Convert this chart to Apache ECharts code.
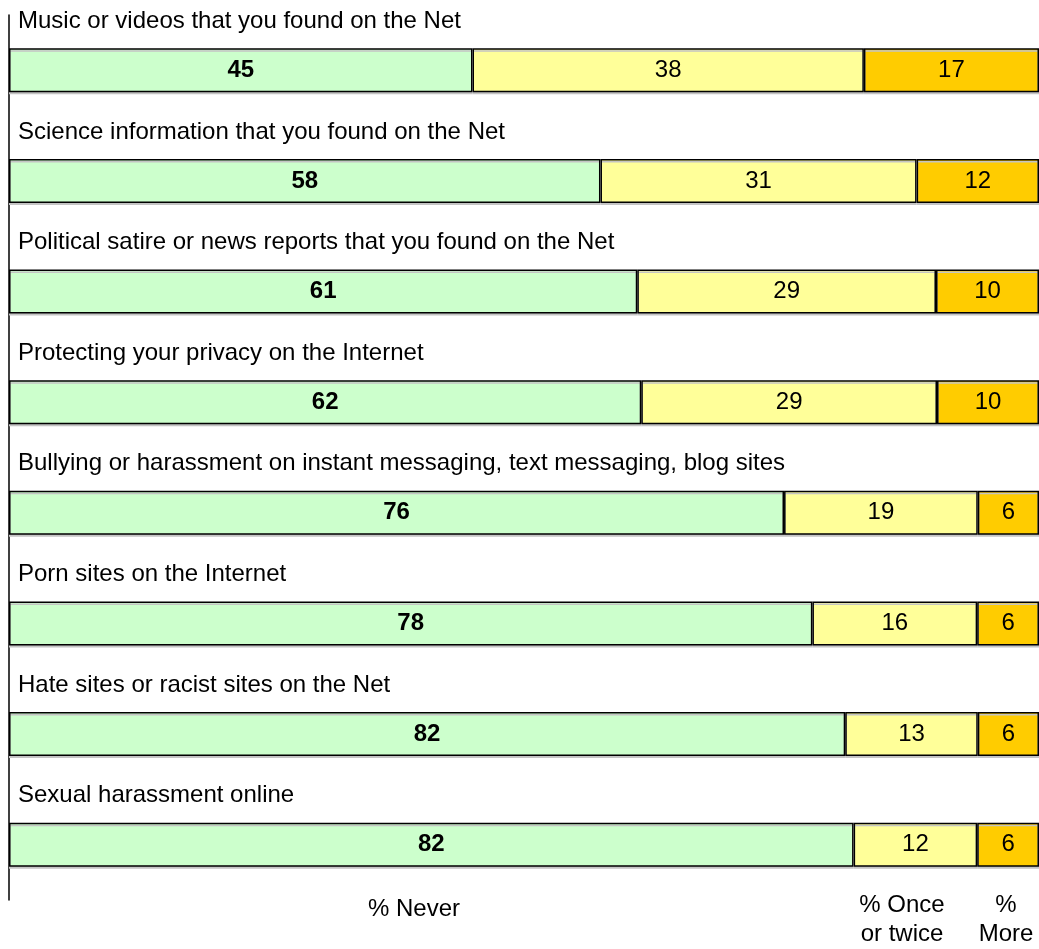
<!DOCTYPE html>
<html>
<head>
<meta charset="utf-8">
<script src="https://cdn.jsdelivr.net/npm/echarts@6/dist/echarts.min.js"></script>
<style>
  html, body { margin: 0; padding: 0; background: #fff; }
  #chart { width: 1039px; height: 949px; }
</style>
</head>
<body>
<div id="chart"></div>
<script>
// Survey items, top to bottom
var categories = [
  'Music or videos that you found on the Net',
  'Science information that you found on the Net',
  'Political satire or news reports that you found on the Net',
  'Protecting your privacy on the Internet',
  'Bullying or harassment on instant messaging, text messaging, blog sites',
  'Porn sites on the Internet',
  'Hate sites or racist sites on the Net',
  'Sexual harassment online'
];
var seriesNames = ['% Never', '% Once or twice', '% More'];
var never = [45, 58, 61, 62, 76, 78, 82, 82];
var onceOrTwice = [38, 31, 29, 29, 19, 16, 13, 12];
var more = [17, 12, 10, 10, 6, 6, 6, 6];

var colors = ['#CCFFCC', '#FFFF99', '#FFCC00'];
var FONT = '"Liberation Sans", Arial, sans-serif';
var FS = 24;

// Each row is drawn as a 100% stack: share of the row total
var totals = never.map(function (v, i) { return v + onceOrTwice[i] + more[i]; });
function shares(arr) {
  return arr.map(function (v, i) { return { value: v / totals[i] * 100, raw: v }; });
}

var raw = [never, onceOrTwice, more];
var series = raw.map(function (arr, k) {
  return {
    name: seriesNames[k],
    type: 'bar',
    stack: 'all',
    barWidth: 44,
    data: shares(arr),
    itemStyle: {
      color: colors[k],
      borderColor: '#000',
      borderWidth: 1.5,
      shadowColor: '#c4c4c4',
      shadowOffsetY: 2,
      shadowBlur: 0
    },
    label: {
      show: true,
      position: 'inside',
      color: '#000',
      fontFamily: FONT,
      fontSize: FS,
      fontWeight: k === 0 ? 'bold' : 'normal',
      formatter: function (p) { return p.data.raw; }
    },
    emphasis: { disabled: true }
  };
});

// Item captions sit above each bar, anchored at the axis origin of the row
series.push({
  type: 'custom',
  name: 'captions',
  clip: false,
  silent: true,
  data: categories.map(function (c, i) { return [0, i]; }),
  renderItem: function (params, api) {
    var p = api.coord([api.value(0), api.value(1)]);
    return {
      type: 'text',
      x: p[0] + 9,
      y: p[1] - 49,
      style: {
        text: categories[params.dataIndex],
        font: FS + 'px ' + FONT,
        fill: '#000',
        textAlign: 'left',
        textVerticalAlign: 'middle'
      }
    };
  }
});

var chart = echarts.init(document.getElementById('chart'), null, { renderer: 'canvas' });
chart.setOption({
  animation: false,
  backgroundColor: '#fff',
  grid: { left: 9, right: 0, top: 15, height: 885, containLabel: false },
  xAxis: {
    type: 'value', min: 0, max: 100,
    show: false
  },
  yAxis: {
    type: 'category',
    inverse: true,
    data: categories,
    axisLine: { show: true, lineStyle: { color: '#000', width: 1.5 } },
    axisTick: { show: false },
    splitLine: { show: false },
    axisLabel: { show: false }
  },
  series: series,
  graphic: [
    { type: 'text', x: 414, y: 909,
      style: { text: seriesNames[0], font: FS + 'px ' + FONT, fill: '#000',
               textAlign: 'center', textVerticalAlign: 'middle' } },
    { type: 'text', x: 902, y: 920,
      style: { text: '% Once\nor twice', font: FS + 'px ' + FONT, fill: '#000',
               textAlign: 'center', textVerticalAlign: 'middle', lineHeight: 29 } },
    { type: 'text', x: 1006, y: 920,
      style: { text: '%\nMore', font: FS + 'px ' + FONT, fill: '#000',
               textAlign: 'center', textVerticalAlign: 'middle', lineHeight: 29 } }
  ]
});
</script>
</body>
</html>
